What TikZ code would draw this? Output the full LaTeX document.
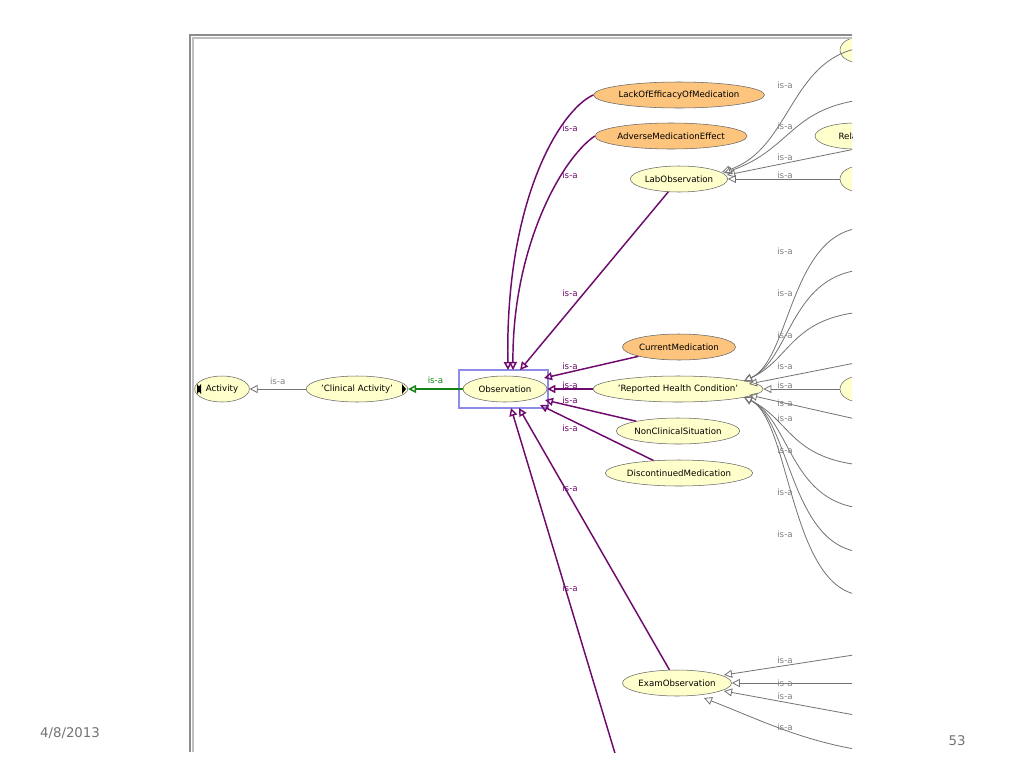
\documentclass[tikz,border=0pt]{standalone}
\usepackage{fontspec}
\setmainfont{DejaVu Sans}
\usetikzlibrary{arrows.meta,shapes.geometric}
\definecolor{ny}{RGB}{255,255,204}
\definecolor{no}{RGB}{252,196,124}
\definecolor{pur}{RGB}{110,10,110}
\definecolor{grn}{RGB}{20,130,20}
\definecolor{sel}{RGB}{140,140,230}
\begin{document}
\begin{tikzpicture}[x=0.75pt,y=-0.75pt,
  cls/.style={ellipse,draw=black!60,fill=ny,inner sep=0pt,minimum height=19.5pt,font=\fontsize{6.5}{7}\selectfont},
  ocls/.style={cls,fill=no},
  pe/.style={draw=pur,line width=1.1pt,-{Triangle[open,length=6pt,width=6pt]}},
  ge/.style={draw=black!55,line width=0.6pt,-{Triangle[open,length=6pt,width=6pt]}},
  lp/.style={text=pur,font=\fontsize{6.5}{7}\selectfont},
  lg/.style={text=black!50,font=\fontsize{6.5}{7}\selectfont}]
\useasboundingbox (0,0) rectangle (1024,768);
\fill[white] (0,0) rectangle (1024,768);
% panel frame
\draw[black!45,line width=0.8pt] (190,752) -- (190,35) -- (852,35);
\draw[black!25,line width=0.8pt] (193,752) -- (193,38) -- (852,38);
\begin{scope}
\clip (194,39) rectangle (852,752);
% nodes
\node[cls,minimum width=41pt] (act) at (222,389) {Activity};
\node[cls,minimum width=73pt] (ca) at (357,389) {'Clinical Activity'};
\node[cls,minimum width=63pt] (obs) at (505,389) {Observation};
\node[ocls,minimum width=118pt] (lack) at (679,95) {LackOfEfficacyOfMedication};
\node[ocls,minimum width=95pt] (adv) at (671,136) {AdverseMedicationEffect};
\node[cls,minimum width=73pt] (lab) at (679,179) {LabObservation};
\node[ocls,minimum width=83pt] (cur) at (679,347) {CurrentMedication};
\node[cls,minimum width=116pt] (rep) at (678,389) {'Reported Health Condition'};
\node[cls,minimum width=86pt] (non) at (678,431) {NonClinicalSituation};
\node[cls,minimum width=104pt] (dis) at (679,473) {DiscontinuedMedication};
\node[cls,minimum width=75pt] (exam) at (677,683) {ExamObservation};
\node[cls,minimum width=60pt] (rel) at (855,136) {Related};
\node[cls,minimum width=30pt] (l2) at (860,179) {};
\node[cls,minimum width=30pt] (r2) at (860,389) {};
\node[cls,minimum width=30pt] (t0) at (860,50) {};
% small triangles
\fill (197,384) -- (197,394) -- (201,389) -- cycle;
\fill (197,389) -- (201,384) -- (201,394) -- cycle;
\fill (402,384) -- (402,394) -- (406,389) -- cycle;
% selection
\draw[sel,line width=1.6pt] (459,370) rectangle (548,408);
% left chain
\draw[ge] (ca) -- node[lg,above] {is-a} (act);
\draw[pe,draw=grn] (obs) -- node[lp,above,text=grn] {is-a} (ca);
% purple edges
\draw[pe] (lack.west) .. controls (560,110) and (505,200) .. (508,370);
\draw[pe] (adv.west) .. controls (560,160) and (512,250) .. (513,370);
\draw[pe] (lab) -- (520,370);
\draw[pe] (cur) -- (544,378);
\draw[pe] (rep) -- (obs);
\draw[pe] (non) -- (545,400);
\draw[pe] (dis) -- (540,405);
\draw[pe] (exam) -- (519,408);
\coordinate (bot) at (617,760);
\draw[pe] (bot) -- (511,408);
\foreach \y in {128,175,293,366,385,400,428,488,588} \node[lp] at (570,\y) {is-a};
% gray edges to lab
\coordinate (a1) at (860,48); \coordinate (a2) at (860,100); \coordinate (a3) at (860,148);
\draw[ge] (a1) .. controls (790,60) and (790,150) .. (722,172);
\draw[ge] (a2) .. controls (790,110) and (790,150) .. (724,173);
\draw[ge] (a3) -- (727,175);
\draw[ge] (l2) -- (lab);
\foreach \y in {85,126,157,175} \node[lg] at (785,\y) {is-a};
% gray edges to rep
\foreach \yy in {228,270,312} {\coordinate (q) at (860,\yy); \draw[ge] (q) .. controls (790,\yy+8) and (790,360) .. (744,381);}
\coordinate (q) at (860,362); \draw[ge] (q) -- (749,384);
\draw[ge] (r2) -- (rep);
\coordinate (q) at (860,420); \draw[ge] (q) -- (749,395);
\foreach \yy in {465,508,552,595} {\coordinate (q) at (860,\yy); \draw[ge] (q) .. controls (790,\yy-8) and (790,420) .. (744,397);}
\foreach \y in {251,293,335,366,385,403,418,450,492,534} \node[lg] at (785,\y) {is-a};
% gray edges to exam
\coordinate (e1) at (860,654); \coordinate (e2) at (860,683); \coordinate (e3) at (860,716); \coordinate (e4) at (860,750);
\draw[ge] (e1) -- (724,675);
\draw[ge] (e2) -- (exam);
\draw[ge] (e3) -- (724,691);
\draw[ge] (e4) .. controls (800,740) and (760,720) .. (704,698);
\foreach \y in {660,683,696,727} \node[lg] at (785,\y) {is-a};
\end{scope}
\node[text=black!55,font=\fontsize{10}{12}\selectfont] at (70,733) {4/8/2013};
\node[text=black!55,font=\fontsize{10}{12}\selectfont] at (957,741) {53};
\end{tikzpicture}
\end{document}
